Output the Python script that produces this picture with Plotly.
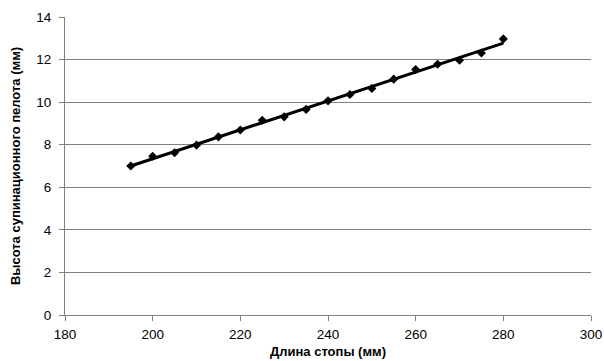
import numpy as np
import plotly.graph_objects as go

foot_length = [195, 200, 205, 210, 215, 220, 225, 230, 235, 240, 245, 250, 255, 260, 265, 270, 275, 280]
pelot_height = [7.0, 7.46, 7.62, 7.98, 8.37, 8.69, 9.15, 9.31, 9.66, 10.06, 10.36, 10.64, 11.08, 11.53, 11.78, 11.97, 12.31, 12.97]
x_ticks = [180, 200, 220, 240, 260, 280, 300]
y_ticks = [0, 2, 4, 6, 8, 10, 12, 14]

k, b = np.polyfit(foot_length, pelot_height, 1)
fit_x = [min(foot_length), max(foot_length)]
fit_y = [k * v + b for v in fit_x]

fig = go.Figure()
fig.add_trace(go.Scatter(x=fit_x, y=fit_y, mode="lines",
                         line=dict(color="black", width=3), showlegend=False))
fig.add_trace(go.Scatter(x=foot_length, y=pelot_height, mode="markers",
                         marker=dict(symbol="diamond", size=7, color="black"),
                         showlegend=False))

font = "Liberation Sans, Arial, sans-serif"
fig.update_layout(
    width=604, height=361,
    margin=dict(l=65, r=13, t=17, b=46),
    plot_bgcolor="white", paper_bgcolor="white",
    font=dict(family=font, size=13.5, color="black"),
    xaxis=dict(range=[180, 300], tickvals=x_ticks, showgrid=False,
               showline=True, linecolor="#808080", linewidth=1,
               ticks="outside", ticklen=5, tickcolor="#808080",
               zeroline=False, automargin=False, ticklabelstandoff=2,
               ticklabeloverflow="allow",
               title=dict(text="<b>Длина стопы (мм)</b>", standoff=5,
                          font=dict(size=13))),
    yaxis=dict(range=[0, 14], tickvals=y_ticks, showgrid=True,
               gridcolor="#808080", gridwidth=1,
               showline=True, linecolor="#808080", linewidth=1,
               ticks="outside", ticklen=5, tickcolor="#808080",
               zeroline=False, automargin=False, ticklabelstandoff=5,
               ticklabeloverflow="allow",
               title=dict(text="<b>Высота супинационного пелота (мм)</b>",
                          standoff=12, font=dict(size=13))),
)

fig.write_html("out.html",
               config={"displayModeBar": False},
               post_script="document.body.style.margin='0';document.body.style.overflow='hidden';")
